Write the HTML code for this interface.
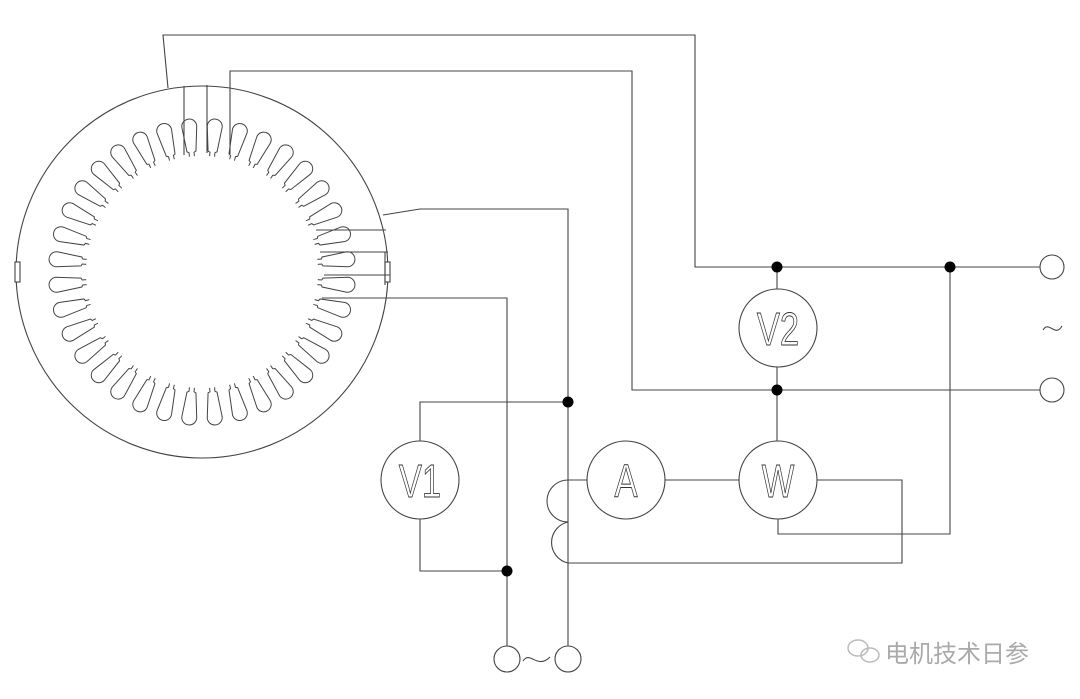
<!DOCTYPE html>
<html><head><meta charset="utf-8"><style>
html,body{margin:0;padding:0;background:#fff;}
svg{display:block;}
</style></head><body>
<svg width="1080" height="699" viewBox="0 0 1080 699" xmlns="http://www.w3.org/2000/svg" xmlns:xlink="http://www.w3.org/1999/xlink">
<defs>
<path id="slot" d="M-2.5,-116 L-2.5,-120 L-4.5,-121 L-7.5,-146 A7.5,7.5 0 0 1 7.5,-146 L4.5,-121 L2.5,-120 L2.5,-116" fill="none" stroke="#444" stroke-width="1"/>
</defs>
<g fill="none" stroke="#444" stroke-width="1.1">
<circle cx="202" cy="272" r="186"/>
<g transform="translate(202,272)">
<use xlink:href="#slot" href="#slot" transform="rotate(5)"/>
<use xlink:href="#slot" href="#slot" transform="rotate(15)"/>
<use xlink:href="#slot" href="#slot" transform="rotate(25)"/>
<use xlink:href="#slot" href="#slot" transform="rotate(35)"/>
<use xlink:href="#slot" href="#slot" transform="rotate(45)"/>
<use xlink:href="#slot" href="#slot" transform="rotate(55)"/>
<use xlink:href="#slot" href="#slot" transform="rotate(65)"/>
<use xlink:href="#slot" href="#slot" transform="rotate(75)"/>
<use xlink:href="#slot" href="#slot" transform="rotate(85)"/>
<use xlink:href="#slot" href="#slot" transform="rotate(95)"/>
<use xlink:href="#slot" href="#slot" transform="rotate(105)"/>
<use xlink:href="#slot" href="#slot" transform="rotate(115)"/>
<use xlink:href="#slot" href="#slot" transform="rotate(125)"/>
<use xlink:href="#slot" href="#slot" transform="rotate(135)"/>
<use xlink:href="#slot" href="#slot" transform="rotate(145)"/>
<use xlink:href="#slot" href="#slot" transform="rotate(155)"/>
<use xlink:href="#slot" href="#slot" transform="rotate(165)"/>
<use xlink:href="#slot" href="#slot" transform="rotate(175)"/>
<use xlink:href="#slot" href="#slot" transform="rotate(185)"/>
<use xlink:href="#slot" href="#slot" transform="rotate(195)"/>
<use xlink:href="#slot" href="#slot" transform="rotate(205)"/>
<use xlink:href="#slot" href="#slot" transform="rotate(215)"/>
<use xlink:href="#slot" href="#slot" transform="rotate(225)"/>
<use xlink:href="#slot" href="#slot" transform="rotate(235)"/>
<use xlink:href="#slot" href="#slot" transform="rotate(245)"/>
<use xlink:href="#slot" href="#slot" transform="rotate(255)"/>
<use xlink:href="#slot" href="#slot" transform="rotate(265)"/>
<use xlink:href="#slot" href="#slot" transform="rotate(275)"/>
<use xlink:href="#slot" href="#slot" transform="rotate(285)"/>
<use xlink:href="#slot" href="#slot" transform="rotate(295)"/>
<use xlink:href="#slot" href="#slot" transform="rotate(305)"/>
<use xlink:href="#slot" href="#slot" transform="rotate(315)"/>
<use xlink:href="#slot" href="#slot" transform="rotate(325)"/>
<use xlink:href="#slot" href="#slot" transform="rotate(335)"/>
<use xlink:href="#slot" href="#slot" transform="rotate(345)"/>
<use xlink:href="#slot" href="#slot" transform="rotate(355)"/>
</g>
<rect x="15" y="262" width="5" height="20" fill="#fff"/>
<rect x="385" y="262" width="5" height="20" fill="#fff"/>
<polyline points="168,88 163,35 695,35 695,267 1040,267"/>
<polyline points="230,154 230,71 632,71 632,390 1040,390"/>
<line x1="184" y1="86" x2="184" y2="155"/>
<line x1="207" y1="85" x2="207" y2="153"/>
<polyline points="383,215 420,209 568,209 568,646"/>
<line x1="316" y1="230" x2="386" y2="230"/>
<line x1="320" y1="252" x2="388" y2="252"/>
<line x1="324" y1="275" x2="390" y2="275"/>
<line x1="385" y1="252" x2="385" y2="285"/>
<polyline points="322,298 507,298 507,646"/>
<circle cx="778" cy="328" r="39"/>
<line x1="777" y1="267" x2="777" y2="289"/>
<line x1="777" y1="367" x2="777" y2="441"/>
<circle cx="778" cy="480" r="39"/>
<polyline points="778,519 778,534 950,534 950,267"/>
<polyline points="817,480 902,480 902,563 568,563"/>
<line x1="665" y1="480" x2="739" y2="480"/>
<circle cx="626" cy="480" r="39"/>
<line x1="568" y1="480" x2="587" y2="480"/>
<path d="M568,480 A21,21 0 0 0 568,522 A21,21 0 0 0 568,563"/>
<circle cx="420" cy="480" r="39"/>
<polyline points="420,441 420,402 568,402"/>
<polyline points="420,519 420,571 507,571"/>
<circle cx="1052" cy="267" r="12"/>
<circle cx="1052" cy="390" r="12"/>
<circle cx="507" cy="659" r="13"/>
<circle cx="568" cy="659" r="13"/>
<path d="M523,661 C530,650 537,670 550,657"/>
<path d="M1043,330 C1049,320 1055,338 1062,326"/>
</g>
<g fill="#000">
<circle cx="777" cy="267" r="5.5"/>
<circle cx="950" cy="267" r="5.5"/>
<circle cx="777" cy="390" r="5.5"/>
<circle cx="568" cy="402" r="5.5"/>
<circle cx="507" cy="571" r="5.5"/>
</g>
<g font-family="Liberation Sans, sans-serif" font-size="46" fill="none" stroke="#333" stroke-width="0.9" text-anchor="middle">
<text x="778" y="345" transform="translate(778,0) scale(0.75,1) translate(-778,0)">V2</text>
<text x="626" y="497" transform="translate(626,0) scale(0.75,1) translate(-626,0)">A</text>
<text x="778" y="497" transform="translate(778,0) scale(0.75,1) translate(-778,0)">W</text>
<text x="420" y="497" transform="translate(420,0) scale(0.75,1) translate(-420,0)">V1</text>
</g>
<g fill="none" stroke="#bbb" stroke-width="1.5">
<ellipse cx="858" cy="648" rx="10" ry="8"/>
<ellipse cx="870" cy="655" rx="9" ry="7"/>
</g>
<text x="885" y="662" font-family="Liberation Sans, 'Noto Sans CJK SC', sans-serif" font-size="24" fill="#aaa">电机技术日参</text>
</svg>
</body></html>
